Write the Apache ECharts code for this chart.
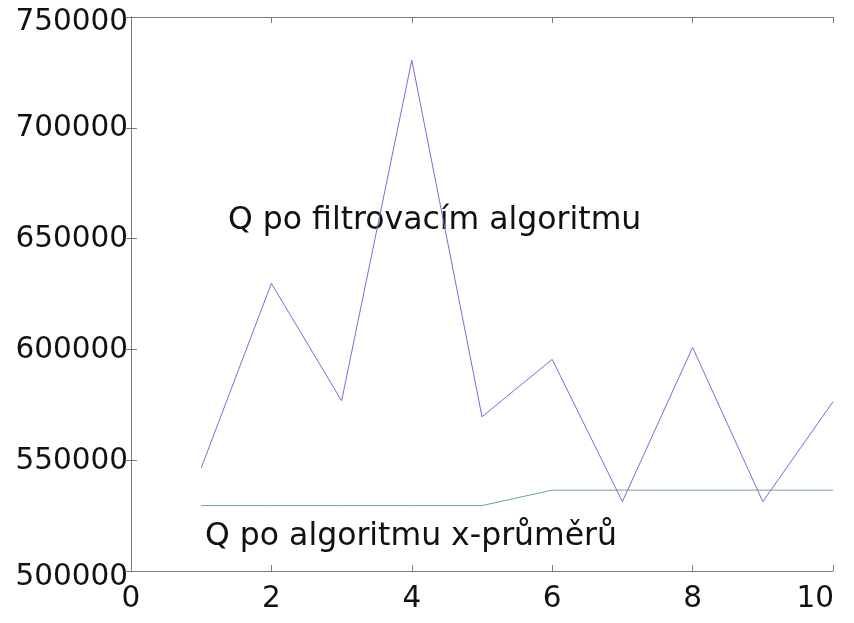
<!DOCTYPE html>
<html>
<head>
<meta charset="utf-8">
<title>Q</title>
<script src="https://cdn.jsdelivr.net/npm/echarts@6/dist/echarts.min.js"></script>
<style>
  html, body { margin: 0; padding: 0; background: #fff; }
  #chart { width: 854px; height: 623px; }
</style>
</head>
<body>
<div id="chart"></div>
<script>
// Run index on the x axis
const runs = [1, 2, 3, 4, 5, 6, 7, 8, 9, 10];
// Q after the filtering algorithm
const filtered = [546500, 629800, 576800, 730500, 569600, 595500, 531300, 600900, 531300, 576400];
// Q after the x-means algorithm
const xmeans = [529500, 529500, 529500, 529500, 529500, 536500, 536500, 536500, 536500, 536500];
// Tick labels
const xTicks = [0, 2, 4, 6, 8, 10];
const yTicks = [500000, 550000, 600000, 650000, 700000, 750000];
// Curve captions
const labelFiltered = 'Q po filtrovacím algoritmu';
const labelXmeans = 'Q po algoritmu x-průměrů';

const FONT = '"DejaVu Sans", sans-serif';
const frame = { show: true, lineStyle: { color: '#7a7a7a', width: 1 } };
const tick = { show: true, inside: true, length: 6, lineStyle: { color: '#7a7a7a' } };

const chart = echarts.init(document.getElementById('chart'), null, { renderer: 'canvas' });

const xBase = { type: 'value', min: 0, max: 10, interval: 2, axisLine: frame, axisTick: tick,
  axisLabel: { show: false }, splitLine: { show: false } };
const yBase = { type: 'value', min: 500000, max: 750000, interval: 50000, axisLine: frame, axisTick: tick,
  axisLabel: { show: false }, splitLine: { show: false } };

chart.setOption({
  animation: false,
  backgroundColor: '#ffffff',
  grid: { left: 131, right: 21, top: 17, bottom: 52 },
  xAxis: [
    Object.assign({ position: 'bottom' }, xBase),
    Object.assign({ position: 'top' }, xBase)
  ],
  yAxis: [
    Object.assign({ position: 'left' }, yBase),
    Object.assign({ position: 'right' }, yBase)
  ],
  series: [
    {
      type: 'line', name: labelFiltered, showSymbol: false,
      data: runs.map((r, i) => [r, filtered[i]]),
      lineStyle: { color: '#6f6fe0', width: 1 }
    },
    {
      type: 'line', name: labelXmeans, showSymbol: false,
      data: runs.map((r, i) => [r, xmeans[i]]),
      lineStyle: { color: '#6aa878', width: 1 }
    }
  ]
});

// Tick labels and captions placed through the axis scales
const toPx = (x, y) => chart.convertToPixel({ xAxisIndex: 0, yAxisIndex: 0 }, [x, y]);
const txt = (text, x, y, align, size) => ({
  type: 'text', x: x, y: y, silent: true,
  style: { text: text, x: 0, y: 0, align: align, verticalAlign: 'middle',
    fill: '#111111', font: size + 'px ' + FONT }
});

const graphics = [];
yTicks.forEach((v, i) => {
  const p = toPx(0, v);
  const dy = i === 0 ? 6 : (i === yTicks.length - 1 ? 5 : 1);
  graphics.push(txt(String(v), p[0] - 3, p[1] + dy, 'right', 29.5));
});
xTicks.forEach((v, i) => {
  const p = toPx(v, 500000);
  const last = i === xTicks.length - 1;
  graphics.push(txt(String(v), p[0] + (last ? 1 : 0), p[1] + 28, last ? 'right' : 'center', 29.5));
});
graphics.push(txt(labelFiltered, 228, 221, 'left', 31.5));
graphics.push(txt(labelXmeans, 205, 537, 'left', 31.5));

chart.setOption({ graphic: graphics });
</script>
</body>
</html>
